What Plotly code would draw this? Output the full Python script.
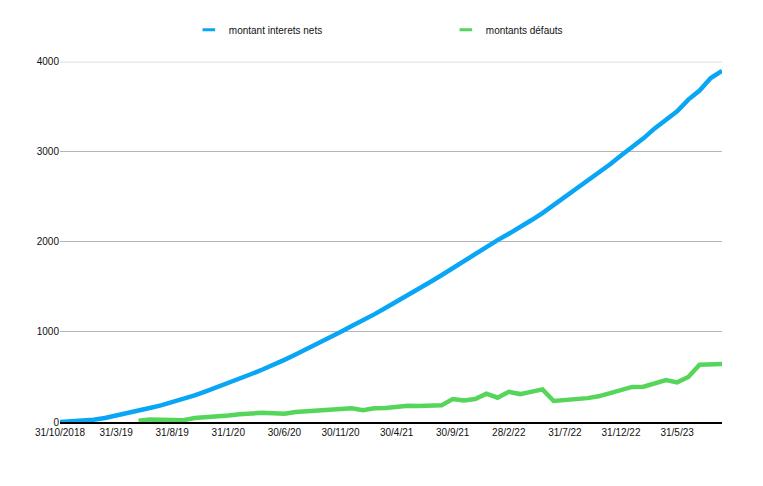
#!/bin/env python3

import pandas as pd
import plotly.graph_objects as go

# %%
# Monthly end-of-month dates, 31/10/2018 .. 30/9/2023
months = pd.date_range("2018-10-31", "2023-09-30", freq="ME")
categories = [f"{d.day}/{d.month}/{d.strftime('%y')}" for d in months]
categories[0] = "31/10/2018"

interets_nets = [
    0, 5, 12, 25, 45, 70, 100, 130, 155, 185,
    220, 255, 295, 340, 385, 430, 480, 530, 580, 630,
    690, 750, 810, 870, 935, 1000, 1065, 1125, 1195, 1265,
    1335, 1405, 1475, 1555, 1630, 1710, 1785, 1860, 1940, 2020,
    2090, 2160, 2240, 2320, 2410, 2500, 2580, 2670, 2760, 2860,
    2960, 3050, 3150, 3260, 3350, 3450, 3580, 3680, 3820, 3900,
]

# defaults only start in May 2019
defauts = [None] * 7 + [
    15, 28, 25, 18, 20, 45, 52, 58, 72, 85,
    97, 103, 98, 92, 112, 120, 127, 140, 142, 152,
    130, 152, 155, 172, 180, 177, 185, 185, 255, 240,
    255, 315, 270, 335, 310, 330, 362, 233, 245, 248,
    265, 285, 318, 362, 390, 392, 428, 465, 440, 500,
    635, 635, 643,
]

tick_labels = categories[::5]

series = [
    ("montant interets nets", interets_nets, "#0aa6f6"),
    ("montants défauts", defauts, "#55d65a"),
]

# %%
fig = go.Figure()
for name, values, color in series:
    fig.add_trace(go.Scatter(
        x=categories, y=values, name=name, showlegend=False,
        mode="lines", line=dict(color=color, width=4.5),
    ))
# legend-only entries, to get the short dash symbol of the original
for name, values, color in series:
    fig.add_trace(go.Scatter(
        x=[None], y=[None], name=name, mode="markers",
        marker=dict(symbol="line-ew-open", size=9, color=color,
                    line=dict(width=3, color=color)),
    ))

# top gridline sits on the edge of the range, plotly does not draw it
fig.add_hline(y=4000, line=dict(color="#b5b5b5", width=1), layer="below")

fig.update_layout(
    width=763, height=486,
    margin=dict(l=52, r=49, t=47, b=72),
    plot_bgcolor="white", paper_bgcolor="white",
    font=dict(family="Liberation Sans, Arial, sans-serif", size=10, color="#111111"),
    legend=dict(
        orientation="h", xref="container", yref="container",
        x=0.237, y=0.985, xanchor="left", yanchor="top",
        entrywidth=212, entrywidthmode="pixels",
        itemwidth=30, font=dict(size=10),
    ),
)
fig.update_xaxes(
    type="category", tickmode="array", tickvals=tick_labels, ticktext=tick_labels,
    range=[0, len(categories) - 1], showgrid=False, showline=True,
    linecolor="black", linewidth=1.5, ticks="", tickangle=0,
)
fig.update_yaxes(
    range=[0, 4000], tickvals=[0, 1000, 2000, 3000, 4000],
    showgrid=True, gridcolor="#b5b5b5", gridwidth=1,
    zeroline=False, showline=False, ticks="",
)

fig.write_html("out.html")
